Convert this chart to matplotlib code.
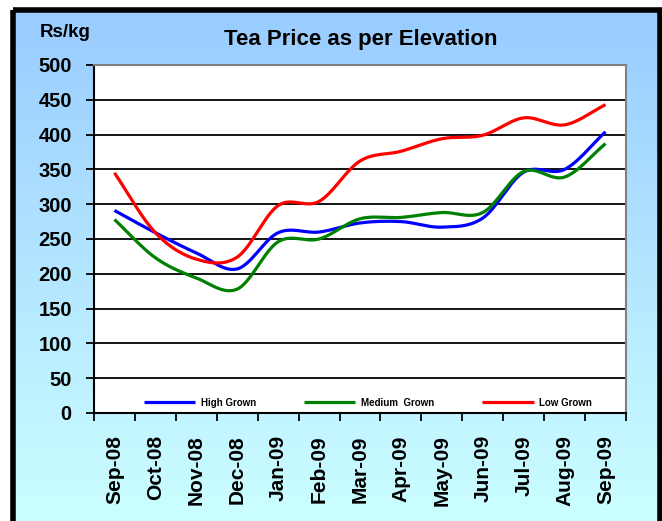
import matplotlib
matplotlib.use('Agg')
import matplotlib.pyplot as plt
from matplotlib.patches import Rectangle
from matplotlib.colors import LinearSegmentedColormap
import numpy as np

plt.rcParams['font.family'] = ['Liberation Sans', 'DejaVu Sans']
plt.rcParams['font.weight'] = 'bold'

months = ['Sep-08', 'Oct-08', 'Nov-08', 'Dec-08', 'Jan-09', 'Feb-09', 'Mar-09',
          'Apr-09', 'May-09', 'Jun-09', 'Jul-09', 'Aug-09', 'Sep-09']
high = [291, 259, 230, 207, 259, 260, 273, 275, 267, 280, 346, 350, 404]
medium = [278, 223, 194, 178, 246, 250, 279, 281, 288, 288, 347, 339, 387]
low = [345, 259, 221, 224, 298, 304, 362, 376, 394, 399, 424, 414, 443]


def smooth(y, n=30):
    # catmull-rom through the points, like Excel's smoothed line
    y = np.asarray(y, dtype=float)
    x = np.arange(len(y), dtype=float)
    px = np.concatenate([[2 * x[0] - x[1]], x, [2 * x[-1] - x[-2]]])
    py = np.concatenate([[2 * y[0] - y[1]], y, [2 * y[-1] - y[-2]]])
    xs, ys = [], []
    t = np.linspace(0, 1, n, endpoint=False)
    for i in range(1, len(px) - 2):
        for arr, out in ((px, xs), (py, ys)):
            p0, p1, p2, p3 = arr[i - 1], arr[i], arr[i + 1], arr[i + 2]
            out.append(0.5 * (2 * p1 + (-p0 + p2) * t
                              + (2 * p0 - 5 * p1 + 4 * p2 - p3) * t ** 2
                              + (-p0 + 3 * p1 - 3 * p2 + p3) * t ** 3))
    xs.append([x[-1]])
    ys.append([y[-1]])
    return np.concatenate(xs), np.concatenate(ys)


fig = plt.figure(figsize=(6.62, 5.21), dpi=100)

# background with gradient and black frame
bg = fig.add_axes([0, 0, 1, 1], zorder=-5)
bg.set_xlim(0, 662)
bg.set_ylim(521, 0)
bg.axis('off')
cmap = LinearSegmentedColormap.from_list('bg', ['#99CCFF', '#CCFFFF'])
grad = np.linspace(0, 1, 256).reshape(-1, 1)
bg.imshow(grad, cmap=cmap, aspect='auto', extent=[13, 662, 521, 10])
bg.add_patch(Rectangle((13, 9.5), 647, 530, fill=False, ec='black', lw=4))

ax = fig.add_axes([0.142, 0.2073, 0.8036, 0.668])
ax.set_facecolor('white')
x = np.arange(len(months))

for vals, col, lab in ((high, '#0000FF', 'High Grown'),
                       (medium, '#008000', 'Medium  Grown'),
                       (low, '#FF0000', 'Low Grown')):
    sx, sy = smooth(vals)
    ax.plot(sx, sy, color=col, lw=2.3, label=lab, solid_capstyle='butt')

ax.set_xlim(-0.5, len(months) - 0.5)
ax.set_ylim(0, 500)
ax.set_yticks(range(0, 501, 50))
ax.yaxis.grid(True, color='black', lw=1.3)
ax.set_axisbelow(True)

ax.set_xticks(x)
ax.set_xticklabels(months, rotation=90, fontsize=15, fontweight='bold')
ax.set_xticks(np.arange(-0.5, len(months)), minor=True)
ax.tick_params(axis='x', which='major', length=0, pad=16)
ax.tick_params(axis='x', which='minor', length=6, width=1.3, direction='out')
ax.tick_params(axis='y', length=6, width=1.3, direction='out', pad=10, labelsize=14.5)
for lbl in ax.get_yticklabels():
    lbl.set_fontweight('bold')

for s in ('top', 'right'):
    ax.spines[s].set_color('#808080')
    ax.spines[s].set_linewidth(1.5)
for s in ('left', 'bottom'):
    ax.spines[s].set_color('black')
    ax.spines[s].set_linewidth(1.5)

leg = ax.legend(loc='lower center', bbox_to_anchor=(0.515, -0.01), ncol=3, frameon=False,
                prop={'size': 7, 'weight': 'bold'}, handlelength=5.3,
                columnspacing=4.9, handletextpad=0.6)

fig.text(0.545, 0.925, 'Tea Price as per Elevation', ha='center', va='center',
         fontsize=16, fontweight='bold')
fig.text(0.06, 0.937, 'Rs/kg', ha='left', va='center', fontsize=13.5, fontweight='bold')

fig.savefig('out.png', dpi=100)
